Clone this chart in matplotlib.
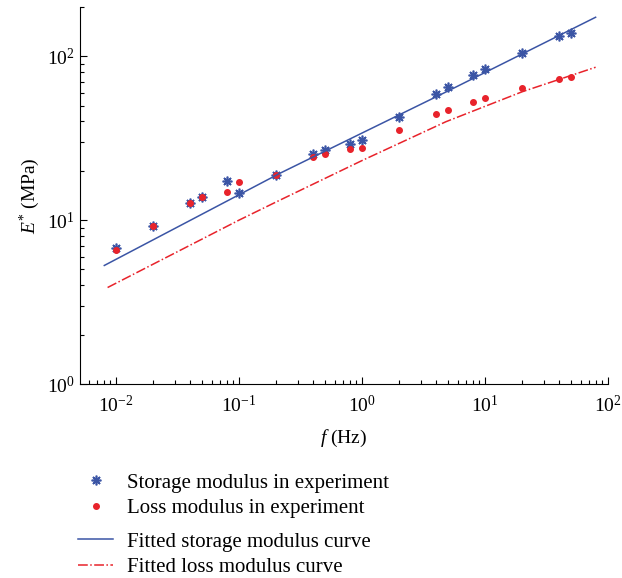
import numpy as np
import matplotlib
matplotlib.use("Agg")
import matplotlib.pyplot as plt

plt.rcParams['font.family'] = ['Liberation Serif', 'DejaVu Serif']
plt.rcParams['mathtext.fontset'] = 'custom'
plt.rcParams['mathtext.rm'] = 'Liberation Serif'
plt.rcParams['mathtext.it'] = 'Liberation Serif:italic'

# experiment frequencies (Hz)
freq = [0.01, 0.02, 0.04, 0.05, 0.08, 0.1, 0.2, 0.4, 0.5, 0.8, 1.0,
        2, 4, 5, 8, 10, 20, 40, 50]
storage = [6.8, 9.2, 12.7, 13.9, 17.4, 14.7, 18.9, 25.5, 26.9, 29.3, 30.9,
           42.8, 58.9, 64.7, 76.9, 83.3, 105, 133, 138]
loss = [6.56, 9.2, 12.7, 13.9, 14.8, 17.1, 18.9, 24.2, 25.4, 27.2, 27.6,
        35.4, 44.3, 47.1, 52.9, 55.7, 64.1, 72.4, 74.8]

# fitted curves
fit_f_s = [0.00804, 0.216, 1.0, 5.2, 79.2]
fit_storage = [5.29, 19.35, 34.0, 62.3, 173]
fit_f_l = [0.00855, 0.1, 0.2, 1.0, 4.82, 20, 79.2]
fit_loss = [3.88, 10.0, 12.9, 23.1, 39.9, 60.7, 85.7]

blue = '#3B55A5'
red = '#E8232B'

fig = plt.figure(figsize=(6.22, 5.78), dpi=100)
ax = fig.add_axes([0.1286, 0.3356, 0.849, 0.6524])

h1, = ax.plot(freq, storage, linestyle='none', marker=(8, 2, 0), markersize=7,
              markeredgewidth=1.2, color=blue, label='Storage modulus in experiment')
h2, = ax.plot(freq, loss, linestyle='none', marker='o', markersize=4,
              color=red, label='Loss modulus in experiment')
h3, = ax.plot(fit_f_s, fit_storage, '-', color=blue, lw=1.1,
              label='Fitted storage modulus curve')
h4, = ax.plot(fit_f_l, fit_loss, '-.', color=red, lw=1.1,
              label='Fitted loss modulus curve')

ax.set_xscale('log')
ax.set_yscale('log')
ax.set_xlim(0.0051, 100)
ax.set_ylim(1, 200)
ax.spines['top'].set_visible(False)
ax.spines['right'].set_visible(False)
ax.tick_params(which='both', direction='in', labelsize=14, width=0.8)
ax.tick_params(which='major', length=5)
ax.tick_params(which='minor', length=3)
ax.tick_params(axis='x', pad=8)
ax.set_xlabel('$f$ (Hz)', fontsize=14, labelpad=8)
ax.set_ylabel('$E^{*}$ (MPa)', fontsize=14, labelpad=4)

leg_kw = dict(loc='upper left', frameon=False, fontsize=15, handlelength=1.7,
              handletextpad=0.65, labelspacing=0.28, borderpad=0, borderaxespad=0)
fig.legend(handles=[h1, h2], bbox_to_anchor=(0.1254, 0.1817), **leg_kw)
fig.legend(handles=[h3, h4], bbox_to_anchor=(0.1254, 0.0796), **leg_kw)

fig.savefig('out.png', dpi=100)
